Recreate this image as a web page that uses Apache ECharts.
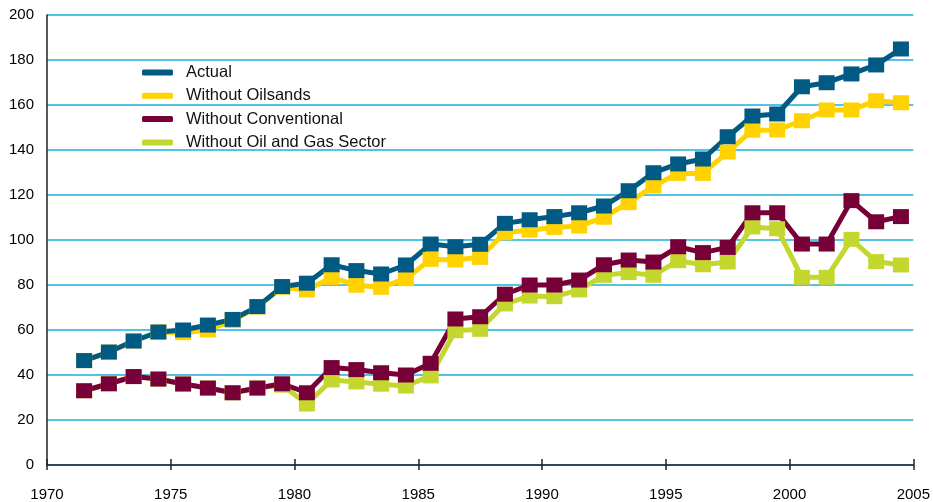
<!DOCTYPE html>
<html>
<head>
<meta charset="utf-8">
<script src="https://cdn.jsdelivr.net/npm/echarts@6/dist/echarts.min.js"></script>
<style>
  html, body { margin: 0; padding: 0; background: #fff; }
  #chart { width: 933px; height: 502px; }
</style>
</head>
<body>
<div id="chart"></div>
<script>
  // years, each value is plotted at mid-year
  let years = [1971, 1972, 1973, 1974, 1975, 1976, 1977, 1978, 1979, 1980,
               1981, 1982, 1983, 1984, 1985, 1986, 1987, 1988, 1989, 1990,
               1991, 1992, 1993, 1994, 1995, 1996, 1997, 1998, 1999, 2000,
               2001, 2002, 2003, 2004];

  let actual = [46.4, 50.2, 55.1, 59.1, 60, 62.2, 64.7, 70.4, 79.3,
                80.8, 89, 86.4, 84.9, 88.9, 98.2, 97, 98.1, 107.4, 109,
                110.4, 112.1, 115.1, 121.9, 129.9, 133.8, 136, 145.9, 155.1, 156,
                168.1, 169.9, 173.8, 177.8, 184.9];

  let withoutOilsands = [46.4, 50.2, 55.1, 59.1, 58.8, 60, 64.2, 70.2, 79,
                         77.8, 83.4, 79.9, 79, 82.8, 91.4, 91.1, 92.3, 103.2, 104.4,
                         105.6, 106.2, 110.1, 116.6, 124, 129.6, 129.6, 139.1, 148.8, 148.9,
                         153, 157.8, 157.8, 161.9, 161];

  let withoutConventional = [33, 36.1, 39.3, 38.2, 36, 34.2, 32.1, 34.2, 36.1,
                             32.1, 43.3, 42.4, 41, 40, 45.2, 64.9, 65.9, 75.9, 80,
                             80, 82.2, 89, 91.1, 90.2, 97, 94.4, 96.7, 112.1, 112.1,
                             98.2, 98.2, 117.5, 108.1, 110.4];

  let withoutOilGas = [33, 36.1, 39.3, 38.2, 36, 34.2, 32.1, 34.2, 35.5,
                       27.1, 37.8, 36.9, 35.9, 35.1, 39.6, 59.7, 60.3, 71.6, 75.1,
                       74.8, 77.8, 84.3, 85.5, 84.3, 90.8, 89, 90.2, 105.8, 105,
                       83.4, 83.4, 100.3, 90.4, 88.9];

  let seriesNames = ['Actual', 'Without Oilsands', 'Without Conventional', 'Without Oil and Gas Sector'];
  let seriesColors = ['#005a84', '#ffd200', '#760037', '#c3d72f'];

  let chart = echarts.init(document.getElementById('chart'));

  let toPoints = (values) => values.map((v, i) => [years[i] + 0.5, v]);

  let makeSeries = (idx, values) => {
    return {
      name: seriesNames[idx],
      type: 'line',
      data: toPoints(values),
      symbol: 'rect',
      symbolSize: [16, 15],
      itemStyle: { color: seriesColors[idx] },
      lineStyle: { color: seriesColors[idx], width: 5 },
      emphasis: { disabled: true }
    };
  };

  let labelFont = {
    fontFamily: 'Liberation Sans, Arial, sans-serif',
    fontSize: 15,
    color: '#000'
  };

  let option = {
    animation: false,
    textStyle: { fontFamily: 'Liberation Sans, Arial, sans-serif' },
    grid: {
      left: 47,
      right: 19,
      top: 15,
      bottom: 37
    },
    legend: {
      orient: 'vertical',
      left: 142,
      top: 64,
      padding: 0,
      data: seriesNames,
      icon: 'roundRect',
      itemWidth: 31,
      itemHeight: 6,
      itemGap: 6.3,
      textStyle: Object.assign({}, labelFont, {
        fontSize: 16.5,
        lineHeight: 16,
        color: '#111',
        padding: [0, 0, 0, 8]
      })
    },
    xAxis: [
      {
        type: 'value',
        min: 1970,
        max: 2005,
        interval: 5,
        splitLine: { show: false },
        axisLine: { show: true, lineStyle: { color: '#222', width: 1.5 } },
        axisTick: { show: true, length: 5, lineStyle: { color: '#222', width: 1.5 } },
        axisLabel: Object.assign({}, labelFont, {
          margin: 22,
          formatter: (v) => String(v)
        })
      },
      {
        type: 'value',
        position: 'bottom',
        min: 1970,
        max: 2005,
        interval: 5,
        splitLine: { show: false },
        axisLine: { show: false },
        axisTick: { show: true, inside: true, length: 6, lineStyle: { color: '#222', width: 1.5 } },
        axisLabel: { show: false }
      }
    ],
    yAxis: {
      type: 'value',
      min: 0,
      max: 200,
      interval: 20,
      axisLine: { show: true, lineStyle: { color: '#222', width: 1.5 } },
      axisTick: { show: false },
      splitLine: { show: true, lineStyle: { color: '#55c4e4', width: 2 } },
      axisLabel: Object.assign({}, labelFont, { margin: 13 })
    },
    // drawn lowest first so Actual and Conventional sit on top
    series: [
      makeSeries(3, withoutOilGas),
      makeSeries(2, withoutConventional),
      makeSeries(1, withoutOilsands),
      makeSeries(0, actual)
    ]
  };

  chart.setOption(option);
</script>
</body>
</html>
